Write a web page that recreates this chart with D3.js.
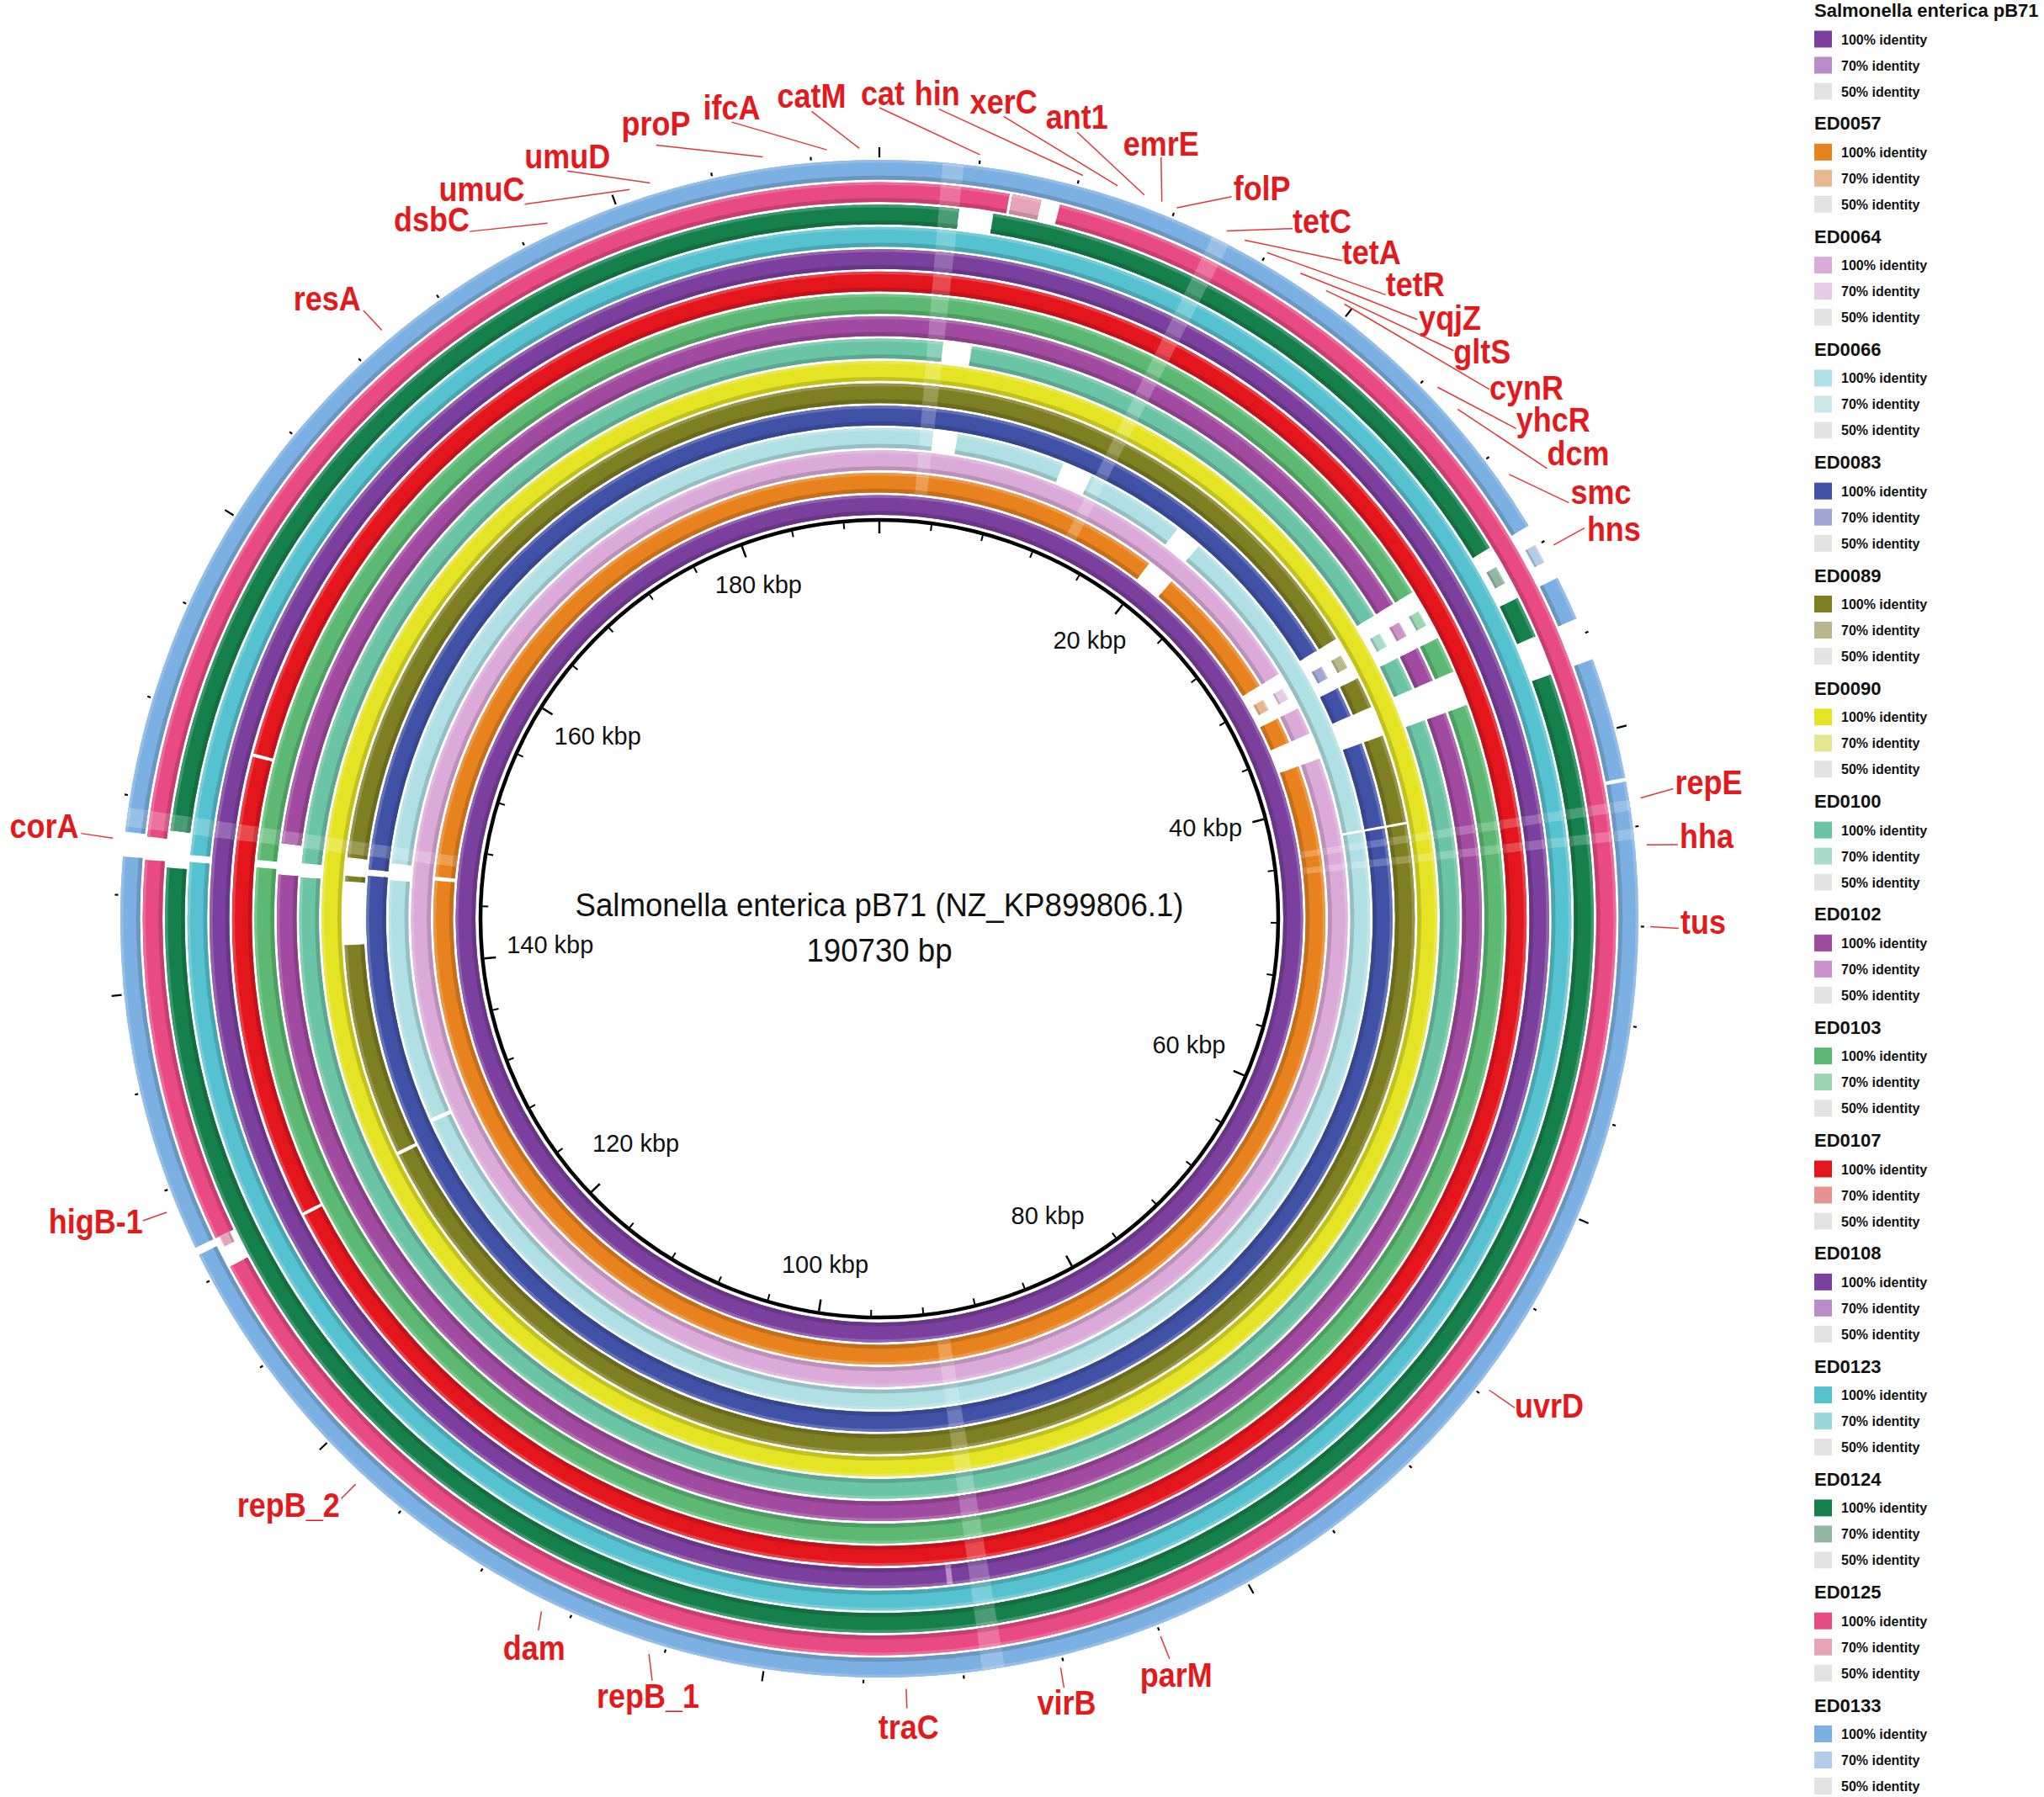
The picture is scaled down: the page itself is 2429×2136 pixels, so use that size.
<!DOCTYPE html>
<html>
<head>
<meta charset="utf-8">
<script src="https://cdn.jsdelivr.net/npm/d3@7"></script>
<style>
  body { margin: 0; background: #fff; }
  text { font-family: "Liberation Sans", Arial, Helvetica, sans-serif; }
</style>
</head>
<body>
<div id="chart"></div>
<script>
var svgWidth = 2429;
var svgHeight = 2136;
var cx = 1045, cy = 1092;

// genome length in kbp
var genomeKbp = 190.730;
var titleLines = ["Salmonella enterica pB71 (NZ_KP899806.1)", "190730 bp"];

// rings, inner to outer (same order as legend)
var ringNames = ["Salmonella enterica pB71", "ED0057", "ED0064", "ED0066", "ED0083", "ED0089", "ED0090",
  "ED0100", "ED0102", "ED0103", "ED0107", "ED0108", "ED0123", "ED0124", "ED0125", "ED0133"];
var color100 = ["#7b3f9d", "#e8821e", "#dcaad8", "#b0e0e4", "#4152a6", "#7e7e22", "#e4e424",
  "#6cc4a6", "#a04aa0", "#5cb872", "#e3161d", "#7b3f9d", "#56c2d0", "#16804c", "#e84a84", "#7cb0e2"];
var color70 = ["#ba8cc8", "#e8b88e", "#e6cce6", "#cce8e8", "#a2a6d6", "#b8b88c", "#e6e68e",
  "#a8dcca", "#cc92cc", "#9ad6b2", "#e89292", "#ba8cc8", "#9ad8dc", "#92b8a4", "#e6a4b8", "#b4cce8"];
var color50 = "#e3e3e3";
var identityLabels = ["100% identity", "70% identity", "50% identity"];

// regions with no hit (kbp)
var ringGaps = [
  [],
  [[19.71, 21.67], [30.99, 33.54], [35.34, 37.09], [145.64, 145.91]],
  [[30.99, 33.54], [35.34, 37.09]],
  [[3.34, 4.87], [11.66, 13.56], [19.81, 21.51], [42.15, 42.30], [130.07, 130.33], [145.43, 146.49]],
  [[30.99, 33.54], [35.34, 37.09], [42.15, 42.30], [145.59, 145.96]],
  [[30.99, 33.54], [35.34, 37.09], [42.15, 42.30], [129.17, 129.38], [141.54, 145.17], [145.48, 146.54]],
  [],
  [[3.34, 4.87], [30.99, 33.54], [35.34, 37.09], [145.22, 145.96]],
  [[30.99, 33.54], [35.34, 37.09], [145.27, 146.86]],
  [[30.99, 33.54], [35.34, 37.09], [145.54, 145.91]],
  [[128.58, 128.74], [150.73, 150.89]],
  [],
  [[145.54, 145.85]],
  [[3.39, 4.87], [31.10, 33.54], [35.34, 37.09], [145.22, 146.81]],
  [[5.40, 5.52], [6.73, 7.52], [128.11, 129.43], [145.48, 146.44]],
  [[31.15, 33.54], [35.34, 37.09], [42.01, 42.17], [129.11, 129.43], [145.54, 146.54]]
];

// 70% identity stretches inside hits (kbp)
var ringLow = [[], [], [], [], [], [], [], [], [], [], [], [[92.03, 92.29]], [], [[146.81, 147.40]], [[5.52, 6.73]], []];
// faint lower-identity streaks seen across most rings (kbp)
var sharedLow = [[2.54, 3.39], [13.78, 14.52], [42.91, 43.34], [44.08, 44.50], [90.33, 91.23], [146.75, 147.50]];

// short 70% identity pieces standing alone inside gaps (kbp)
var island = [31.95, 32.74];
var ringThin = [[], [island], [island], [], [island], [island], [], [island], [island], [island], [], [], [],
  [island], [[128.96, 129.43]], [island]];

// annotated genes (kbp)
var geneNames = ["resA", "dsbC", "umuC", "umuD", "proP", "ifcA", "catM", "cat", "hin", "xerC", "ant1", "emrE",
  "folP", "tetC", "tetA", "tetR", "yqjZ", "gltS", "cynR", "yhcR", "dcm", "smc", "hns", "repE", "hha", "tus",
  "uvrD", "parM", "virB", "traC", "repB_1", "dam", "repB_2", "higB-1", "corA"];
var genePos = [169.43, 177.22, 180.72, 181.56, 186.12, 188.66, 189.94, 3.97, 8.11, 9.54, 10.65, 11.39,
  12.03, 14.20, 14.99, 16.00, 17.54, 18.76, 19.66, 24.58, 25.75, 29.03, 32.32, 42.91, 44.77, 48.00,
  67.66, 84.03, 88.16, 94.31, 104.58, 109.14, 118.04, 131.18, 146.23];

// label placement: [end angle (deg), end radius, anchor, dx, dy]
var labelLayout = [
  [319.7, 948, "end", -3, 0], [329.2, 951, "end", 0, 0], [333.6, 948, "end", 0, -4],
  [337.35, 963, "middle", 0, -3], [343.9, 957, "middle", 0, -12], [349.5, 963, "middle", 0, -3],
  [355.2, 963, "middle", 0, -4], [0, 964, "middle", 4, -3], [4.2, 965, "middle", -2, -5],
  [8.8, 965, "middle", 0, -3], [14.1, 964, "middle", 0, -4], [20.3, 965, "middle", 0, -2],
  [26.0, 955, "start", 2, 4], [30.9, 956, "start", 0, 5], [35.1, 956, "start", 0, 4],
  [39.05, 955, "start", 0, 2], [41.9, 957, "start", 2, 12], [45.3, 960, "start", 0, 15],
  [49.05, 960, "start", 0, 12], [52.4, 955, "start", 0, 4], [56.0, 957, "start", 0, -4],
  [58.9, 957, "start", 2, 1], [61.0, 958, "start", 3, 15], [80.7, 956, "start", 2, 6],
  [84.7, 953, "start", 2, 4], [90.7, 950, "start", 2, 6], [127.6, 953, "start", 0, 12],
  [158.6, 945, "middle", 8, 33], [166.5, 940, "middle", 3, 32], [178.0, 939, "middle", 2, 37],
  [196.6, 945, "middle", -5, 32], [205.6, 938, "middle", -5, 35], [222.85, 940, "end", -2, 22],
  [247.7, 946, "end", 0, 15], [276.1, 954, "end", -3, 5]
];

var tickValues = d3.range(0, 190, 4);
var tickLabelValues = [20, 40, 60, 80, 100, 120, 140, 160, 180];

var svg = d3.select("#chart")
  .append("svg")
  .attr("width", svgWidth)
  .attr("height", svgHeight);

svg.append("rect").attr("width", svgWidth).attr("height", svgHeight).attr("fill", "#fff");

var chartGroup = svg.append("g")
  .attr("transform", `translate(${cx}, ${cy})`);

var angle = d3.scaleLinear().domain([0, genomeKbp]).range([0, 2 * Math.PI]);
var band = 23.5;
var ringOuter = d3.scaleLinear().domain([0, ringNames.length - 1]).range([503.5, 902]);
var arc = d3.arc();

function polar(a, r) {
  return [r * Math.sin(a), -r * Math.cos(a)];
}

// remove cut intervals from a list of intervals
function subtract(intervals, cuts) {
  var out = intervals.slice();
  cuts.forEach(function(c) {
    var next = [];
    out.forEach(function(iv) {
      if (c[1] <= iv[0] || c[0] >= iv[1]) { next.push(iv); return; }
      if (c[0] > iv[0]) next.push([iv[0], c[0]]);
      if (c[1] < iv[1]) next.push([c[1], iv[1]]);
    });
    out = next;
  });
  return out;
}

// one shaded piece of a ring: darker inner edge, lighter outer edge
function drawBand(g, s, e, r0, r1, fill) {
  var a0 = angle(s), a1 = angle(e), h = r1 - r0;
  g.append("path")
    .attr("d", arc({innerRadius: r0, outerRadius: r1, startAngle: a0, endAngle: a1}))
    .attr("fill", fill);
  g.append("path")
    .attr("d", arc({innerRadius: r0, outerRadius: r0 + h * 0.2, startAngle: a0, endAngle: a1}))
    .attr("fill", d3.color(fill).darker(0.45));
  g.append("path")
    .attr("d", arc({innerRadius: r1 - h * 0.14, outerRadius: r1, startAngle: a0, endAngle: a1}))
    .attr("fill", d3.interpolateRgb(fill, "#fff")(0.18));
}

var ringsGroup = chartGroup.append("g");
ringNames.forEach(function(name, i) {
  var g = ringsGroup.append("g").attr("class", "ring");
  var r1 = ringOuter(i), r0 = r1 - band;
  subtract([[0, genomeKbp]], ringGaps[i]).forEach(function(s) {
    drawBand(g, s[0], s[1], r0, r1, color100[i]);
  });
  subtract(ringLow[i], ringGaps[i]).forEach(function(s) {
    drawBand(g, s[0], s[1], r0, r1, color70[i]);
  });
  if (i > 0) {
    var faint = d3.interpolateRgb(color100[i], "#fff")(0.22);
    subtract(sharedLow, ringGaps[i]).forEach(function(s) {
      drawBand(g, s[0], s[1], r0, r1, faint);
    });
  }
  ringThin[i].forEach(function(s) {
    var h = r1 - r0;
    drawBand(g, s[0], s[1], r0 + h * 0.22, r1 - h * 0.22, color70[i]);
  });
});

// backbone circle and ticks
var backboneR = 474;
chartGroup.append("circle")
  .attr("r", backboneR)
  .attr("fill", "none")
  .attr("stroke", "#000")
  .attr("stroke-width", 4.5);

tickValues.forEach(function(v) {
  var a = angle(v);
  var major = v % 20 === 0;
  var p0 = polar(a, backboneR - 2), p1 = polar(a, backboneR - (major ? 16 : 9));
  chartGroup.append("line")
    .attr("x1", p0[0]).attr("y1", p0[1]).attr("x2", p1[0]).attr("y2", p1[1])
    .attr("stroke", "#000").attr("stroke-width", major ? 2.5 : 2);
  var q0 = polar(a, 905), q1 = polar(a, major ? 917 : 909);
  chartGroup.append("line")
    .attr("x1", q0[0]).attr("y1", q0[1]).attr("x2", q1[0]).attr("y2", q1[1])
    .attr("stroke", "#000").attr("stroke-width", 2.2);
});

tickLabelValues.forEach(function(v) {
  var a = angle(v);
  var t = chartGroup.append("text")
    .attr("text-anchor", "middle")
    .attr("dominant-baseline", "central")
    .attr("font-size", 29)
    .attr("fill", "#111")
    .text(v + " kbp");
  var halfW = t.node().getComputedTextLength() / 2;
  var r = backboneR - 28 - (halfW * Math.abs(Math.sin(a)) + 14 * Math.abs(Math.cos(a)));
  var p = polar(a, r);
  t.attr("x", p[0]).attr("y", p[1] - 8);
});

// centre title
chartGroup.append("text")
  .attr("text-anchor", "middle")
  .attr("font-size", 39)
  .attr("fill", "#111")
  .attr("transform", "translate(0, -3) scale(0.94, 1)")
  .text(titleLines[0]);
chartGroup.append("text")
  .attr("text-anchor", "middle")
  .attr("font-size", 39)
  .attr("fill", "#111")
  .attr("transform", "translate(0, 51) scale(0.94, 1)")
  .text(titleLines[1]);

// gene labels with leader lines
var labelGroup = chartGroup.append("g");
geneNames.forEach(function(name, i) {
  var lay = labelLayout[i];
  var p0 = polar(angle(genePos[i]), 916);
  var p1 = polar(lay[0] * Math.PI / 180, lay[1]);
  labelGroup.append("line")
    .attr("x1", p0[0]).attr("y1", p0[1]).attr("x2", p1[0]).attr("y2", p1[1])
    .attr("stroke", "#e0383a").attr("stroke-width", 1.5);
  labelGroup.append("g")
    .attr("transform", `translate(${p1[0] + lay[3]}, ${p1[1] + lay[4]}) scale(0.9, 1)`)
    .append("text")
    .attr("text-anchor", lay[2])
    .attr("font-size", 40)
    .attr("font-weight", "bold")
    .attr("fill", "#e31a1c")
    .text(name);
});

// legend
var legend = svg.append("g").attr("transform", "translate(2156, 0)");
ringNames.forEach(function(name, k) {
  var yc = 12 + 134.3 * k;
  legend.append("text")
    .attr("x", 0).attr("y", yc + 8)
    .attr("font-size", 22)
    .attr("font-weight", "bold")
    .attr("fill", "#111")
    .text(name);
  var fills = [color100[k], color70[k], color50];
  identityLabels.forEach(function(lab, j) {
    var y = yc + 34.5 + 31 * j;
    legend.append("rect")
      .attr("x", 0).attr("y", y - 10)
      .attr("width", 21).attr("height", 20)
      .attr("fill", fills[j]);
    legend.append("text")
      .attr("x", 32).attr("y", y + 6)
      .attr("font-size", 16)
      .attr("font-weight", "bold")
      .attr("fill", "#111")
      .text(lab);
  });
});
</script>
</body>
</html>
